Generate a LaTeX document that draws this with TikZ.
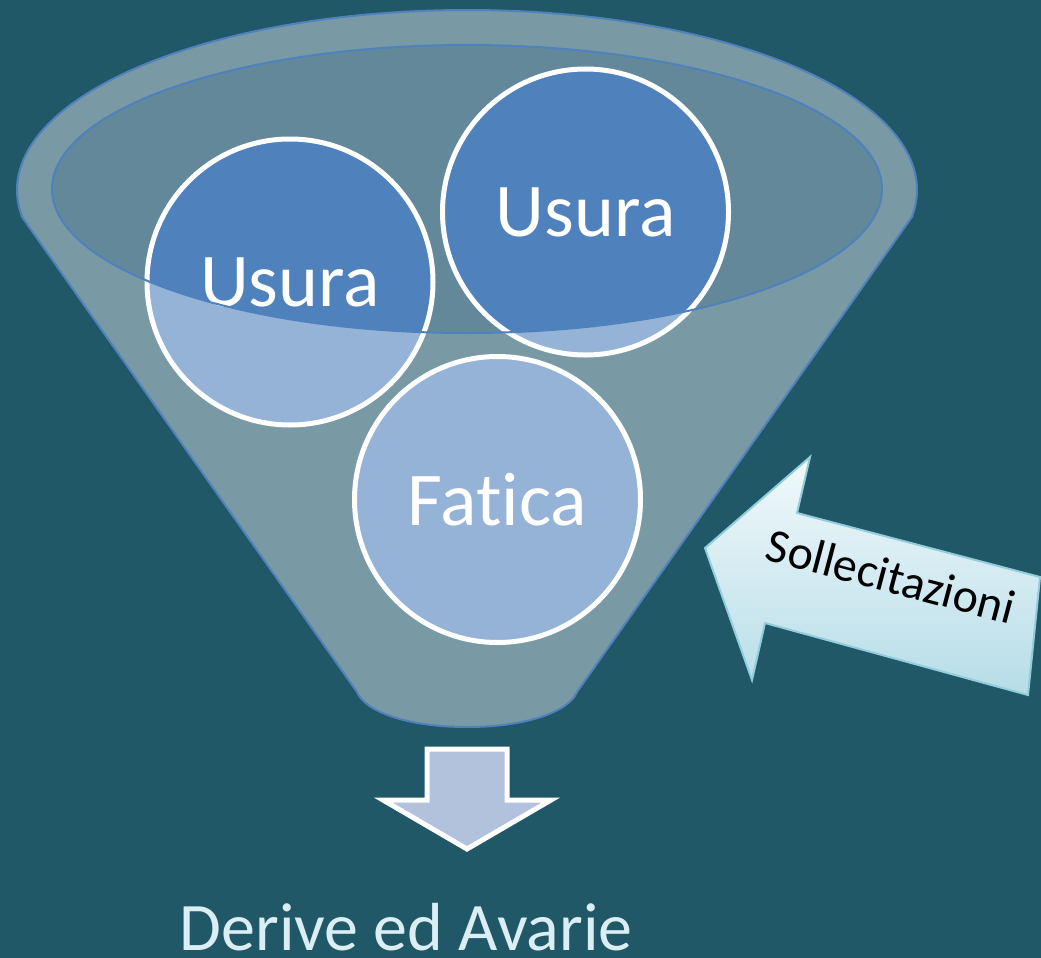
\documentclass[tikz,border=0pt]{standalone}
\usepackage{fontspec}
\setmainfont{Carlito}[Ligatures={NoCommon,NoRequired,NoContextual}]
\definecolor{bgteal}{HTML}{215868}
\definecolor{innerfill}{HTML}{628899}
\definecolor{ballblue}{HTML}{4F81BD}
\definecolor{rimline}{HTML}{4F81BD}
\definecolor{downfill}{HTML}{B3C2DC}
\definecolor{arrtop}{HTML}{F2F9FB}
\definecolor{arrbot}{HTML}{B6DDE8}
\definecolor{arrline}{HTML}{92CDDC}
\definecolor{resulttext}{HTML}{DAEEF3}
\tikzset{
  ball/.style={circle, draw=white, line width=5pt, fill=ballblue, minimum size=286pt, inner sep=0pt, text=white, font=\fontsize{76}{80}\selectfont},
  rimstroke/.style={draw=rimline, line width=2pt},
}
\def\funnelpath{(22,217) -- plot[domain=171.4:368.6,samples=160] ({467+450*cos(\x)},{190+180*sin(\x)}) -- (577,692) .. controls (570,710) and (530,727) .. (467,727) .. controls (404,727) and (364,710) .. (357,692) -- cycle}
\begin{document}
\begin{tikzpicture}[x=1pt,y=-1pt]
\useasboundingbox (0,0) rectangle (1041,958);
\fill[bgteal] (0,0) rectangle (1041,958);
% inner opening of the funnel
\fill[innerfill] (467,189) ellipse[x radius=415pt, y radius=144pt];
% balls
\node[ball] (usura1) at (290,282) {Usura};
\node[ball] (usura2) at (585.5,212) {Usura};
\node[ball] (fatica) at (497.5,499.5) {Fatica};
% translucent funnel body with the opening cut out
\fill[white, fill opacity=0.4, even odd rule] \funnelpath (467,189) ellipse[x radius=415pt, y radius=144pt];
\path[rimstroke] \funnelpath;
\path[rimstroke] (467,189) ellipse[x radius=415pt, y radius=144pt];
% down arrow
\path[draw=white, line width=5pt, fill=downfill, line join=miter]
  (427,749) -- (507,749) -- (507,800) -- (551,800) -- (467,849) -- (383,800) -- (427,800) -- cycle;
\node[anchor=base, text=resulttext, font=\fontsize{68}{72}\selectfont] (result) at (406,950) {Derive ed Avarie};
% input arrow
\path[draw=arrline, line width=2pt, top color=arrtop, bottom color=arrbot, line join=miter]
  (705,548) -- (810,457) -- (797,513) -- (1040,577) -- (1028,695) -- (765,623) -- (752,680) -- cycle;
\node[anchor=base, rotate=-14.8, text=black, font=\fontsize{48}{52}\selectfont] (solle) at (887,592) {Sollecitazioni};
\end{tikzpicture}
\end{document}
